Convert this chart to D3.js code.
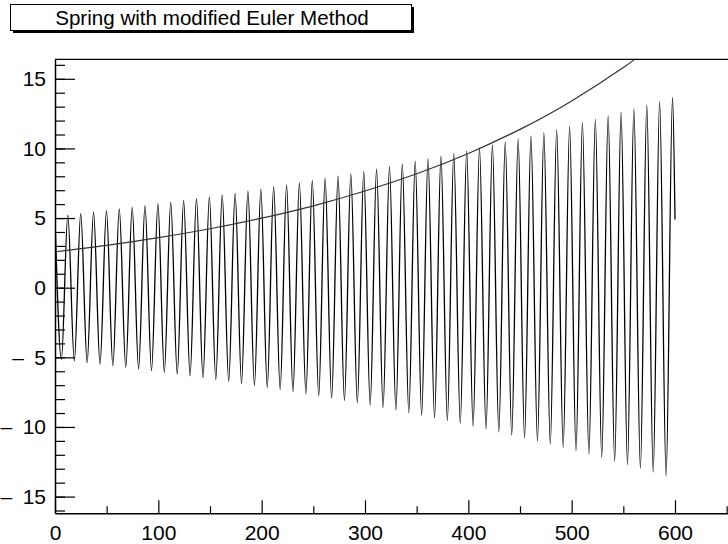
<!DOCTYPE html>
<html>
<head>
<meta charset="utf-8">
<script src="https://cdn.jsdelivr.net/npm/d3@7"></script>
<style>
  body { margin: 0; background: white; }
  text { font-family: "Liberation Sans", Arial, sans-serif; }
</style>
</head>
<body>
<div id="container"></div>
<script>
const title = 'Spring with modified Euler Method'

// oscillation maxima (x, value)
const peakX = [0, 12.4, 24.9, 37.3, 49.8, 62.2, 74.7, 87.1, 99.6, 112.0, 124.5, 136.9, 149.4, 161.8, 174.3, 186.7,
  199.2, 211.6, 224.1, 236.5, 249.0, 261.4, 273.9, 286.3, 298.8, 311.2, 323.7, 336.1, 348.6, 361.0, 373.5, 385.9,
  398.4, 410.8, 423.3, 435.7, 448.2, 460.6, 473.1, 485.5, 498.0, 510.4, 522.9, 535.3, 547.8, 560.2, 572.7, 585.1, 597.6]
const peakY = [5.10, 5.21, 5.31, 5.42, 5.53, 5.65, 5.77, 5.89, 6.01, 6.13, 6.26, 6.39, 6.52, 6.66, 6.79, 6.94,
  7.08, 7.23, 7.38, 7.53, 7.68, 7.84, 8.01, 8.17, 8.34, 8.52, 8.69, 8.87, 9.06, 9.25, 9.44, 9.63,
  9.83, 10.04, 10.25, 10.46, 10.68, 10.90, 11.12, 11.35, 11.59, 11.83, 12.08, 12.33, 12.58, 12.84, 13.11, 13.38, 13.66]

// oscillation minima
const troughX = [6.2, 18.7, 31.1, 43.6, 56.0, 68.5, 80.9, 93.4, 105.8, 118.3, 130.7, 143.2, 155.6, 168.1, 180.5, 193.0,
  205.4, 217.9, 230.3, 242.8, 255.2, 267.7, 280.1, 292.6, 305.0, 317.5, 329.9, 342.4, 354.8, 367.3, 379.7, 392.2,
  404.6, 417.1, 429.5, 442.0, 454.4, 466.9, 479.3, 491.8, 504.2, 516.7, 529.1, 541.6, 554.0, 566.5, 578.9, 591.4]
const troughY = [-5.15, -5.26, -5.37, -5.48, -5.59, -5.71, -5.83, -5.95, -6.07, -6.20, -6.32, -6.45, -6.59, -6.72, -6.86, -7.01,
  -7.15, -7.30, -7.45, -7.61, -7.76, -7.93, -8.09, -8.26, -8.43, -8.60, -8.78, -8.97, -9.15, -9.34, -9.53, -9.73,
  -9.94, -10.14, -10.35, -10.57, -10.79, -11.01, -11.24, -11.47, -11.71, -11.95, -12.20, -12.45, -12.71, -12.98, -13.25, -13.52]

// last sample of the oscillation
const endX = 600
const endY = 4.9

// the smooth rising curve
const curveX = [0, 50, 100, 150, 200, 250, 300, 350, 400, 450, 500, 550, 560]
const curveY = [2.58, 3.04, 3.59, 4.23, 4.99, 5.88, 6.94, 8.18, 9.64, 11.37, 13.41, 15.81, 16.4]

const xMajor = [0, 100, 200, 300, 400, 500, 600]
const xMinor = [50, 150, 250, 350, 450, 550, 650]
const yMajor = [-15, -10, -5, 0, 5, 10, 15]
const yMinor = d3.range(-16, 17)

const w = 728
const h = 544
const frameLeft = 55
const frameTop = 59.3
const frameBottom = 513.3

const svg = d3.select('#container')
  .append('svg')
    .attr('width', w)
    .attr('height', h)
    .style('display', 'block')
    .style('background', 'white')

const scaleX = d3.scaleLinear()
  .domain([0, 660])
  .range([frameLeft, frameLeft + 682])

const scaleY = d3.scaleLinear()
  .domain([-16.2, 16.4])
  .range([frameBottom, frameTop])

svg.append('clipPath')
    .attr('id', 'frame-clip')
  .append('rect')
    .attr('x', frameLeft)
    .attr('y', frameTop)
    .attr('width', w - frameLeft)
    .attr('height', frameBottom - frameTop)

// build the oscillation path from alternating extrema
const osc = []
peakX.forEach((x, i) => {
  osc.push([x, peakY[i]])
  if (i < troughX.length) osc.push([troughX[i], troughY[i]])
})
osc.push([endX, endY])

const line = d3.line()
  .x(d => scaleX(d[0]))
  .y(d => scaleY(d[1]))
  .curve(d3.curveMonotoneX)

svg.append('path')
  .datum(osc)
  .attr('clip-path', 'url(#frame-clip)')
  .attr('fill', 'none')
  .attr('stroke', '#000')
  .attr('stroke-width', 1.3)
  .attr('d', line)

svg.append('path')
  .datum(curveX.map((x, i) => [x, curveY[i]]))
  .attr('clip-path', 'url(#frame-clip)')
  .attr('fill', 'none')
  .attr('stroke', '#333')
  .attr('stroke-width', 1.2)
  .attr('d', line.curve(d3.curveNatural))

// frame top
svg.append('line')
  .attr('x1', frameLeft)
  .attr('x2', w)
  .attr('y1', frameTop)
  .attr('y2', frameTop)
  .attr('stroke', '#000')
  .attr('stroke-width', 1.2)

// axes, ticks pointing into the frame like ROOT
const styleAxis = g => {
  g.selectAll('.domain').attr('stroke', '#000').attr('stroke-width', 1.5)
  g.selectAll('.tick line').attr('stroke', '#000').attr('stroke-width', 1.2)
  g.selectAll('text').attr('font-size', 21).attr('fill', '#000')
    .style('font-family', '"Liberation Sans", Arial, sans-serif')
}

// ROOT draws a wide minus with a gap before the digits
const fmtY = d => d < 0 ? '\u2013\u2002' + Math.abs(d) : String(d)

svg.append('g')
  .attr('transform', `translate(${frameLeft}, 0)`)
  .call(d3.axisLeft(scaleY).tickValues(yMinor).tickSizeInner(-10).tickSizeOuter(0).tickFormat(''))
  .call(g => g.select('.domain').remove())
  .call(styleAxis)

svg.append('g')
  .attr('id', 'y-axis')
  .attr('transform', `translate(${frameLeft}, 0)`)
  .call(d3.axisLeft(scaleY).tickValues(yMajor).tickSizeInner(-20).tickSizeOuter(0).tickPadding(9).tickFormat(fmtY))
  .call(styleAxis)

svg.append('g')
  .attr('transform', `translate(0, ${frameBottom})`)
  .call(d3.axisBottom(scaleX).tickValues(xMinor).tickSizeInner(-7).tickSizeOuter(0).tickFormat(''))
  .call(g => g.select('.domain').remove())
  .call(styleAxis)

svg.append('g')
  .attr('id', 'x-axis')
  .attr('transform', `translate(0, ${frameBottom})`)
  .call(d3.axisBottom(scaleX).tickValues(xMajor).tickSizeInner(-13).tickSizeOuter(0).tickPadding(12))
  .call(styleAxis)

// title pave with shadow
const pave = svg.append('g').attr('id', 'title')

pave.append('rect')
  .attr('x', 13)
  .attr('y', 7)
  .attr('width', 401)
  .attr('height', 26)
  .attr('fill', '#000')

pave.append('rect')
  .attr('x', 10.5)
  .attr('y', 4.5)
  .attr('width', 401)
  .attr('height', 26)
  .attr('fill', 'white')
  .attr('stroke', '#000')
  .attr('stroke-width', 1)

pave.append('text')
  .attr('x', 212)
  .attr('y', 25)
  .attr('text-anchor', 'middle')
  .attr('font-size', 20.6)
  .text(title)
</script>
</body>
</html>
